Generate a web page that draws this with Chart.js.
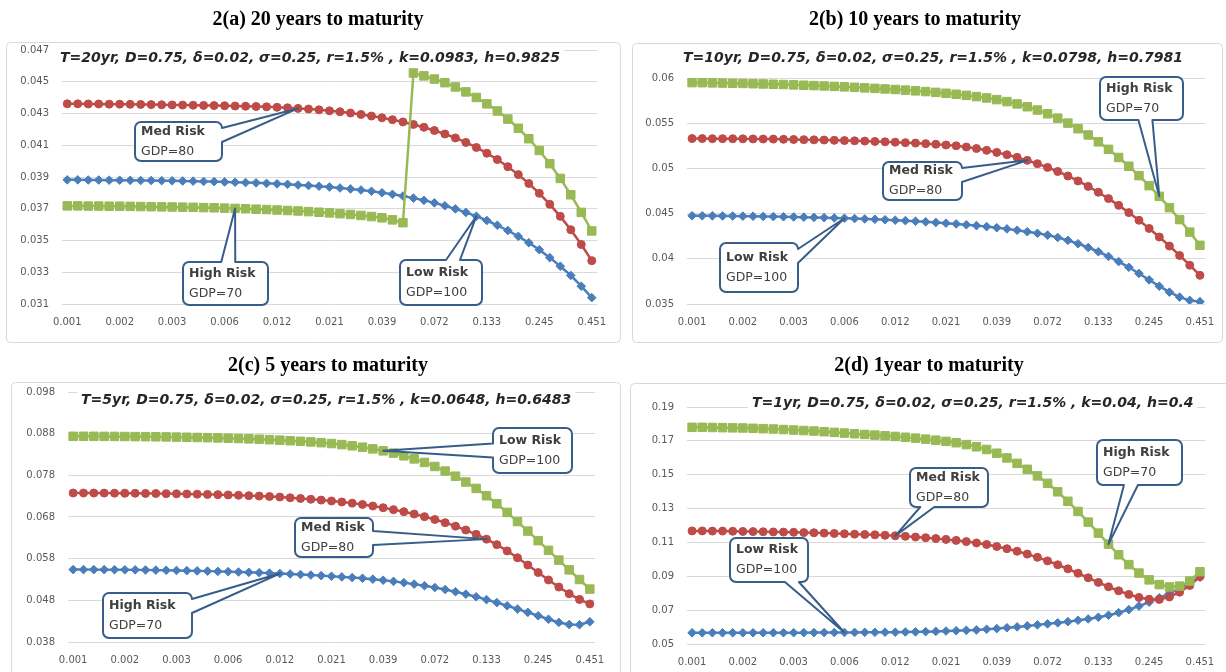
<!DOCTYPE html>
<html>
<head>
<meta charset="utf-8">
<script src="https://cdn.jsdelivr.net/npm/chart.js@4.4.1/dist/chart.umd.min.js"></script>
<style>
  html, body { margin: 0; padding: 0; background: #fff; }
  #wrap { position: relative; width: 1226px; height: 672px; overflow: hidden; background: #fff; }
  #wrap canvas { position: absolute; }
</style>
</head>
<body>
<div id="wrap">
  <canvas id="c20" width="626" height="344" style="left:0px;top:0px"></canvas>
  <canvas id="c10" width="600" height="344" style="left:626px;top:0px"></canvas>
  <canvas id="c5"  width="626" height="328" style="left:0px;top:344px"></canvas>
  <canvas id="c1"  width="600" height="328" style="left:626px;top:344px"></canvas>
</div>
<script>
// x categories (shared by all four panels); every fifth one is labelled
const xCategories = [
  0.0010, 0.00113, 0.001277, 0.001443, 0.00163, 0.001842, 0.002082, 0.002352, 0.002658, 0.003004,
  0.003394, 0.003836, 0.004334, 0.004898, 0.005535, 0.006254, 0.007067, 0.007986, 0.009025, 0.010198,
  0.011524, 0.013022, 0.014715, 0.016628, 0.01879, 0.021233, 0.023994, 0.027113, 0.030638, 0.034621,
  0.039122, 0.044208, 0.049956, 0.056451, 0.06379, 0.072083, 0.081455, 0.092045, 0.10401, 0.11753,
  0.13281, 0.15008, 0.16959, 0.19164, 0.21656, 0.24471, 0.27653, 0.31248, 0.35311, 0.39901,
  0.45089
];
const xTickLabels = ['0.001', '0.002', '0.003', '0.006', '0.012', '0.021', '0.039', '0.072', '0.133', '0.245', '0.451'];

// T = 20 years
const t20Low = [
  0.03882, 0.03882, 0.03881, 0.03881, 0.03880, 0.03880, 0.03879, 0.03878, 0.03878, 0.03877,
  0.03876, 0.03875, 0.03874, 0.03872, 0.03871, 0.03869, 0.03867, 0.03865, 0.03863, 0.03860,
  0.03857, 0.03854, 0.03850, 0.03846, 0.03842, 0.03837, 0.03831, 0.03825, 0.03818, 0.03810,
  0.03801, 0.03791, 0.03780, 0.03767, 0.03753, 0.03737, 0.03719, 0.03699, 0.03677, 0.03653,
  0.03626, 0.03596, 0.03563, 0.03526, 0.03486, 0.03442, 0.03392, 0.03338, 0.03280, 0.03212,
  0.03140
];
const t20Med = [
  0.04361, 0.04361, 0.04360, 0.04360, 0.04359, 0.04359, 0.04358, 0.04357, 0.04356, 0.04355,
  0.04354, 0.04353, 0.04352, 0.04351, 0.04350, 0.04349, 0.04347, 0.04346, 0.04344, 0.04342,
  0.04339, 0.04336, 0.04332, 0.04328, 0.04323, 0.04317, 0.04311, 0.04303, 0.04294, 0.04284,
  0.04273, 0.04261, 0.04247, 0.04231, 0.04213, 0.04193, 0.04171, 0.04146, 0.04118, 0.04086,
  0.04050, 0.04010, 0.03965, 0.03915, 0.03859, 0.03797, 0.03728, 0.03652, 0.03568, 0.03475,
  0.03373
];
const t20High = [
  0.03718, 0.03718, 0.03717, 0.03717, 0.03716, 0.03716, 0.03715, 0.03714, 0.03713, 0.03712,
  0.03711, 0.03710, 0.03709, 0.03707, 0.03706, 0.03704, 0.03702, 0.03700, 0.03697, 0.03695,
  0.03692, 0.03689, 0.03686, 0.03682, 0.03678, 0.03674, 0.03669, 0.03664, 0.03658, 0.03651,
  0.03643, 0.03630, 0.03612, 0.04555, 0.04537, 0.04517, 0.04494, 0.04467, 0.04436, 0.04401,
  0.04361, 0.04316, 0.04265, 0.04207, 0.04141, 0.04067, 0.03984, 0.03891, 0.03788, 0.03677,
  0.03560
];

// T = 10 years
const t10Low = [
  0.04476, 0.04476, 0.04475, 0.04474, 0.04473, 0.04472, 0.04471, 0.04469, 0.04467, 0.04465,
  0.04463, 0.04461, 0.04458, 0.04455, 0.04452, 0.04449, 0.04445, 0.04441, 0.04437, 0.04432,
  0.04427, 0.04422, 0.04416, 0.04409, 0.04402, 0.04394, 0.04386, 0.04377, 0.04367, 0.04356,
  0.04344, 0.04331, 0.04316, 0.04300, 0.04282, 0.04262, 0.04236, 0.04204, 0.04167, 0.04125,
  0.04078, 0.04026, 0.03969, 0.03906, 0.03838, 0.03767, 0.03697, 0.03631, 0.03576, 0.03540,
  0.03526
];
const t10Med = [
  0.05330, 0.05330, 0.05329, 0.05329, 0.05328, 0.05327, 0.05326, 0.05325, 0.05324, 0.05322,
  0.05320, 0.05318, 0.05316, 0.05314, 0.05311, 0.05308, 0.05305, 0.05302, 0.05298, 0.05294,
  0.05290, 0.05285, 0.05280, 0.05274, 0.05267, 0.05259, 0.05250, 0.05237, 0.05220, 0.05200,
  0.05177, 0.05151, 0.05122, 0.05089, 0.05052, 0.05011, 0.04966, 0.04916, 0.04861, 0.04801,
  0.04736, 0.04666, 0.04591, 0.04511, 0.04426, 0.04336, 0.04241, 0.04141, 0.04037, 0.03929,
  0.03817
];
const t10High = [
  0.05949, 0.05948, 0.05946, 0.05944, 0.05942, 0.05940, 0.05937, 0.05934, 0.05931, 0.05928,
  0.05924, 0.05920, 0.05916, 0.05912, 0.05907, 0.05902, 0.05897, 0.05891, 0.05885, 0.05879,
  0.05873, 0.05866, 0.05858, 0.05850, 0.05841, 0.05831, 0.05820, 0.05808, 0.05794, 0.05779,
  0.05761, 0.05739, 0.05713, 0.05682, 0.05646, 0.05604, 0.05556, 0.05501, 0.05439, 0.05370,
  0.05294, 0.05211, 0.05121, 0.05024, 0.04920, 0.04809, 0.04691, 0.04566, 0.04434, 0.04295,
  0.04149
];

// T = 5 years
const t5Low = [
  0.05538, 0.05538, 0.05537, 0.05536, 0.05535, 0.05533, 0.05531, 0.05528, 0.05525, 0.05521,
  0.05517, 0.05512, 0.05507, 0.05501, 0.05495, 0.05488, 0.05480, 0.05472, 0.05463, 0.05453,
  0.05443, 0.05432, 0.05420, 0.05407, 0.05393, 0.05378, 0.05362, 0.05346, 0.05330, 0.05308,
  0.05283, 0.05255, 0.05224, 0.05189, 0.05150, 0.05107, 0.05059, 0.05006, 0.04948, 0.04885,
  0.04817, 0.04745, 0.04669, 0.04591, 0.04512, 0.04430, 0.04345, 0.04270, 0.04220, 0.04215,
  0.04285
];
const t5Med = [
  0.07376, 0.07376, 0.07375, 0.07374, 0.07373, 0.07371, 0.07369, 0.07367, 0.07364, 0.07361,
  0.07357, 0.07353, 0.07348, 0.07343, 0.07337, 0.07330, 0.07322, 0.07313, 0.07303, 0.07292,
  0.07279, 0.07262, 0.07245, 0.07226, 0.07206, 0.07185, 0.07161, 0.07133, 0.07101, 0.07064,
  0.07023, 0.06977, 0.06927, 0.06871, 0.06809, 0.06740, 0.06664, 0.06580, 0.06487, 0.06384,
  0.06269, 0.06137, 0.05987, 0.05822, 0.05647, 0.05467, 0.05289, 0.05119, 0.04959, 0.04819,
  0.04714
];
const t5High = [
  0.08737, 0.08737, 0.08736, 0.08735, 0.08734, 0.08732, 0.08730, 0.08728, 0.08725, 0.08722,
  0.08718, 0.08714, 0.08709, 0.08704, 0.08698, 0.08691, 0.08684, 0.08676, 0.08667, 0.08656,
  0.08644, 0.08631, 0.08617, 0.08602, 0.08584, 0.08563, 0.08538, 0.08509, 0.08475, 0.08435,
  0.08388, 0.08333, 0.08269, 0.08195, 0.08110, 0.08013, 0.07903, 0.07779, 0.07640, 0.07485,
  0.07310, 0.07118, 0.06910, 0.06690, 0.06462, 0.06232, 0.06000, 0.05766, 0.05532, 0.05300,
  0.05070
];

// T = 1 year
const t1Low = [
  0.05660, 0.05660, 0.05661, 0.05661, 0.05662, 0.05662, 0.05663, 0.05664, 0.05665, 0.05666,
  0.05668, 0.05670, 0.05672, 0.05675, 0.05678, 0.05681, 0.05684, 0.05688, 0.05692, 0.05696,
  0.05700, 0.05708, 0.05717, 0.05730, 0.05745, 0.05765, 0.05785, 0.05806, 0.05830, 0.05870,
  0.05910, 0.05960, 0.06010, 0.06070, 0.06130, 0.06190, 0.06250, 0.06320, 0.06400, 0.06480,
  0.06580, 0.06700, 0.06850, 0.07030, 0.07240, 0.07470, 0.07730, 0.07990, 0.08270, 0.08600,
  0.08950
];
const t1Med = [
  0.1168, 0.1168, 0.1167, 0.1167, 0.1166, 0.1165, 0.1164, 0.1163, 0.1162, 0.1161,
  0.1160, 0.1158, 0.1157, 0.1155, 0.1153, 0.1151, 0.1149, 0.1147, 0.1145, 0.1142,
  0.1139, 0.1136, 0.1132, 0.1128, 0.1123, 0.1118, 0.1112, 0.1105, 0.1097, 0.1088,
  0.1076, 0.1063, 0.1048, 0.1031, 0.1012, 0.0991, 0.0968, 0.0944, 0.0918, 0.0891,
  0.0864, 0.0838, 0.0814, 0.0793, 0.0775, 0.0764, 0.0763, 0.0778, 0.0806, 0.0846,
  0.0898
];
const t1High = [
  0.1780, 0.1780, 0.1779, 0.1778, 0.1777, 0.1776, 0.1774, 0.1772, 0.1770, 0.1767,
  0.1764, 0.1761, 0.1758, 0.1754, 0.1750, 0.1746, 0.1742, 0.1738, 0.1734, 0.1730,
  0.1726, 0.1721, 0.1716, 0.1710, 0.1704, 0.1697, 0.1689, 0.1678, 0.1665, 0.1649,
  0.1627, 0.1599, 0.1567, 0.1532, 0.1493, 0.1449, 0.1399, 0.1343, 0.1283, 0.1220,
  0.1155, 0.1090, 0.1027, 0.0969, 0.0919, 0.0879, 0.0851, 0.0837, 0.0842, 0.0872,
  0.0927
];

// ---- styling ----
const BLUE = '#4A7EBB', RED = '#BE4B48', GREEN = '#98B954';
const GRID = '#D9D9D9', TICK = '#595959';
const CALLOUT_EDGE = '#385D8A', CALLOUT_TEXT = '#404040';
Chart.defaults.font.family = '"DejaVu Sans", sans-serif';

const panels = [
  {
    id: 'c20', heading: '2(a) 20 years to maturity', headingX: 318, headingY: 20,
    frame: { x: 6, y: 42, w: 614, h: 300 },
    area: { left: 62, right: 597, top: 50, bottom: 304 },
    yMin: 0.031, yMax: 0.047, yStep: 0.002,
    note: 'T=20yr, D=0.75, δ=0.02, σ=0.25, r=1.5% , k=0.0983, h=0.9825', noteX: 60, noteY: 58,
    low: t20Low, med: t20Med, high: t20High,
    callouts: [
      { lines: ['Med Risk', 'GDP=80'], series: 'med', at: 22, box: { x: 10.6, y: 0.04124, w: 87, h: 39 } },
      { lines: ['High Risk', 'GDP=70'], series: 'high', at: 16, box: { x: 15.1, y: 0.03229, w: 85, h: 43 } },
      { lines: ['Low Risk', 'GDP=100'], series: 'low', at: 39, box: { x: 35.6, y: 0.03235, w: 82, h: 45 } }
    ]
  },
  {
    id: 'c10', heading: '2(b) 10 years to maturity', headingX: 289, headingY: 20,
    frame: { x: 6, y: 43, w: 590, h: 299 },
    area: { left: 61, right: 579, top: 78, bottom: 304 },
    yMin: 0.035, yMax: 0.06, yStep: 0.005,
    note: 'T=10yr, D=0.75, δ=0.02, σ=0.25, r=1.5% , k=0.0798, h=0.7981', noteX: 57, noteY: 58,
    low: t10Low, med: t10Med, high: t10High,
    callouts: [
      { lines: ['Low Risk', 'GDP=100'], series: 'low', at: 15, box: { x: 6.6, y: 0.03904, w: 78, h: 49 } },
      { lines: ['Med Risk', 'GDP=80'], series: 'med', at: 33, box: { x: 22.7, y: 0.04861, w: 79, h: 38 } },
      { lines: ['High Risk', 'GDP=70'], series: 'high', at: 46, box: { x: 44.25, y: 0.05773, w: 83, h: 43 } }
    ]
  },
  {
    id: 'c5', heading: '2(c) 5 years to maturity', headingX: 328, headingY: 22,
    frame: { x: 11, y: 38, w: 609, h: 300 },
    area: { left: 68, right: 595, top: 48, bottom: 298 },
    yMin: 0.038, yMax: 0.098, yStep: 0.01,
    note: 'T=5yr, D=0.75, δ=0.02, σ=0.25, r=1.5% , k=0.0648, h=0.6483', noteX: 81, noteY: 56,
    low: t5Low, med: t5Med, high: t5High,
    callouts: [
      { lines: ['Low Risk', 'GDP=100'], series: 'high', at: 30, box: { x: 44.45, y: 0.08396, w: 79, h: 45 } },
      { lines: ['Med Risk', 'GDP=80'], series: 'med', at: 40, box: { x: 25.24, y: 0.06308, w: 78, h: 39 } },
      { lines: ['High Risk', 'GDP=70'], series: 'low', at: 20, box: { x: 7.19, y: 0.04436, w: 89, h: 45 } }
    ]
  },
  {
    id: 'c1', heading: '2(d) 1year to maturity', headingX: 303, headingY: 22,
    frame: { x: 4, y: 39, w: 620, h: 300 },
    area: { left: 61, right: 579, top: 63, bottom: 300 },
    yMin: 0.05, yMax: 0.19, yStep: 0.02,
    note: 'T=1yr, D=0.75, δ=0.02, σ=0.25, r=1.5% , k=0.04, h=0.4', noteX: 126, noteY: 59,
    low: t1Low, med: t1Med, high: t1High,
    callouts: [
      { lines: ['Low Risk', 'GDP=100'], series: 'low', at: 15, box: { x: 7.57, y: 0.09962, w: 78, h: 44 } },
      { lines: ['Med Risk', 'GDP=80'], series: 'med', at: 20, box: { x: 25.3, y: 0.14245, w: 78, h: 39 } },
      { lines: ['High Risk', 'GDP=70'], series: 'high', at: 41, box: { x: 44.05, y: 0.15722, w: 85, h: 45 } }
    ]
  }
];

// dataset order inside each chart (first one is painted on top)
const seriesOrder = ['high', 'med', 'low'];

function roundRectPath(ctx, x, y, w, h, r) {
  ctx.beginPath();
  ctx.moveTo(x + r, y);
  ctx.lineTo(x + w - r, y); ctx.arcTo(x + w, y, x + w, y + r, r);
  ctx.lineTo(x + w, y + h - r); ctx.arcTo(x + w, y + h, x + w - r, y + h, r);
  ctx.lineTo(x + r, y + h); ctx.arcTo(x, y + h, x, y + h - r, r);
  ctx.lineTo(x, y + r); ctx.arcTo(x, y, x + r, y, r);
  ctx.closePath();
}

// rounded box with a wedge that runs out to the tip point
function calloutPath(ctx, x0, y0, x1, y1, r, tip, base) {
  const cx = (x0 + x1) / 2, cy = (y0 + y1) / 2;
  const dx = tip.x - cx, dy = tip.y - cy;
  const hw = (x1 - x0) / 2, hh = (y1 - y0) / 2;
  const half = base / 2;
  let side, c;
  if (Math.abs(dx) / hw > Math.abs(dy) / hh) {
    side = dx > 0 ? 'right' : 'left';
    c = cy + dy * hw / Math.abs(dx);
    c = Math.min(Math.max(c, y0 + r + half), y1 - r - half);
  } else {
    side = dy > 0 ? 'bottom' : 'top';
    c = cx + dx * hh / Math.abs(dy);
    c = Math.min(Math.max(c, x0 + r + half), x1 - r - half);
  }
  ctx.beginPath();
  ctx.moveTo(x0 + r, y0);
  if (side === 'top') { ctx.lineTo(c - half, y0); ctx.lineTo(tip.x, tip.y); ctx.lineTo(c + half, y0); }
  ctx.lineTo(x1 - r, y0); ctx.arcTo(x1, y0, x1, y0 + r, r);
  if (side === 'right') { ctx.lineTo(x1, c - half); ctx.lineTo(tip.x, tip.y); ctx.lineTo(x1, c + half); }
  ctx.lineTo(x1, y1 - r); ctx.arcTo(x1, y1, x1 - r, y1, r);
  if (side === 'bottom') { ctx.lineTo(c + half, y1); ctx.lineTo(tip.x, tip.y); ctx.lineTo(c - half, y1); }
  ctx.lineTo(x0 + r, y1); ctx.arcTo(x0, y1, x0, y1 - r, r);
  if (side === 'left') { ctx.lineTo(x0, c + half); ctx.lineTo(tip.x, tip.y); ctx.lineTo(x0, c - half); }
  ctx.lineTo(x0, y0 + r); ctx.arcTo(x0, y0, x0 + r, y0, r);
  ctx.closePath();
}

function makeDecor(p) {
  return {
    id: 'panelDecor',
    beforeDraw(chart) {
      const ctx = chart.ctx;
      ctx.save();
      ctx.fillStyle = '#ffffff';
      ctx.fillRect(0, 0, chart.width, chart.height);
      roundRectPath(ctx, p.frame.x + 0.5, p.frame.y + 0.5, p.frame.w, p.frame.h, 4);
      ctx.strokeStyle = GRID; ctx.lineWidth = 1; ctx.stroke();
      ctx.font = 'bold 20px "Liberation Serif", serif';
      ctx.fillStyle = '#000000';
      ctx.textAlign = 'center'; ctx.textBaseline = 'middle';
      ctx.fillText(p.heading, p.headingX, p.headingY);
      ctx.restore();
    },
    afterDatasetsDraw(chart) {
      const ctx = chart.ctx;
      const xs = chart.scales.x, ys = chart.scales.y;
      ctx.save();
      // parameter line
      ctx.font = 'italic bold 14px "DejaVu Sans", sans-serif';
      const tw = ctx.measureText(p.note).width;
      ctx.fillStyle = '#ffffff';
      ctx.fillRect(p.noteX - 4, p.noteY - 10, tw + 8, 20);
      ctx.fillStyle = '#262626';
      ctx.textAlign = 'left'; ctx.textBaseline = 'middle';
      ctx.fillText(p.note, p.noteX, p.noteY);
      // callouts
      p.callouts.forEach(c => {
        const ds = seriesOrder.indexOf(c.series);
        const pt = chart.getDatasetMeta(ds).data[c.at];
        const bx = xs.getPixelForValue(c.box.x), by = ys.getPixelForValue(c.box.y);
        const x0 = Math.round(bx - c.box.w / 2), y0 = Math.round(by - c.box.h / 2);
        calloutPath(ctx, x0, y0, x0 + c.box.w, y0 + c.box.h, 6, { x: pt.x, y: pt.y }, 14);
        ctx.fillStyle = '#ffffff'; ctx.fill();
        ctx.strokeStyle = CALLOUT_EDGE; ctx.lineWidth = 2; ctx.lineJoin = 'round'; ctx.stroke();
        ctx.fillStyle = CALLOUT_TEXT;
        ctx.textAlign = 'left'; ctx.textBaseline = 'middle';
        ctx.font = 'bold 12.5px "DejaVu Sans", sans-serif';
        ctx.fillText(c.lines[0], x0 + 6, by - 10);
        ctx.font = '12.5px "DejaVu Sans", sans-serif';
        ctx.fillText(c.lines[1], x0 + 6, by + 10);
      });
      ctx.restore();
    }
  };
}

function buildChart(p) {
  const canvas = document.getElementById(p.id);
  const W = canvas.width, H = canvas.height;
  const xAxisH = 30;
  const style = {
    high: { color: GREEN, pointStyle: 'rect', radius: 6 },
    med:  { color: RED, pointStyle: 'circle', radius: 4 },
    low:  { color: BLUE, pointStyle: 'rectRot', radius: 4.3 }
  };
  const names = { high: 'GDP=70', med: 'GDP=80', low: 'GDP=100' };
  const datasets = seriesOrder.map(key => ({
    label: names[key],
    data: p[key],
    borderColor: style[key].color,
    backgroundColor: style[key].color,
    pointBackgroundColor: style[key].color,
    pointBorderColor: style[key].color,
    pointStyle: style[key].pointStyle,
    pointRadius: style[key].radius,
    pointBorderWidth: 1,
    borderWidth: 2.5,
    tension: 0,
    fill: false
  }));
  return new Chart(canvas, {
    type: 'line',
    data: { labels: xCategories, datasets },
    options: {
      responsive: false,
      animation: false,
      devicePixelRatio: 1,
      layout: {
        padding: { left: 0, top: p.area.top, right: W - p.area.right, bottom: H - p.area.bottom - xAxisH }
      },
      plugins: { legend: { display: false }, tooltip: { enabled: false }, title: { display: false } },
      scales: {
        x: {
          type: 'category',
          offset: true,
          grid: { display: false, drawTicks: false },
          border: { display: false },
          ticks: {
            autoSkip: false, maxRotation: 0, minRotation: 0, padding: 12,
            color: TICK, font: { size: 10 },
            callback: (v, i) => (i % 5 === 0 ? xTickLabels[i / 5] : '')
          },
          afterFit: s => { s.height = xAxisH; s.paddingLeft = 0; s.paddingRight = 0; }
        },
        y: {
          min: p.yMin, max: p.yMax,
          grid: { color: GRID, lineWidth: 1, drawTicks: false },
          border: { display: false },
          ticks: {
            stepSize: p.yStep, padding: 13, color: TICK, font: { size: 10 },
            callback: v => String(Number(v.toFixed(4)))
          },
          afterFit: s => { s.width = p.area.left; s.paddingTop = 0; s.paddingBottom = 0; }
        }
      }
    },
    plugins: [makeDecor(p)]
  });
}

panels.forEach(buildChart);
</script>
</body>
</html>
